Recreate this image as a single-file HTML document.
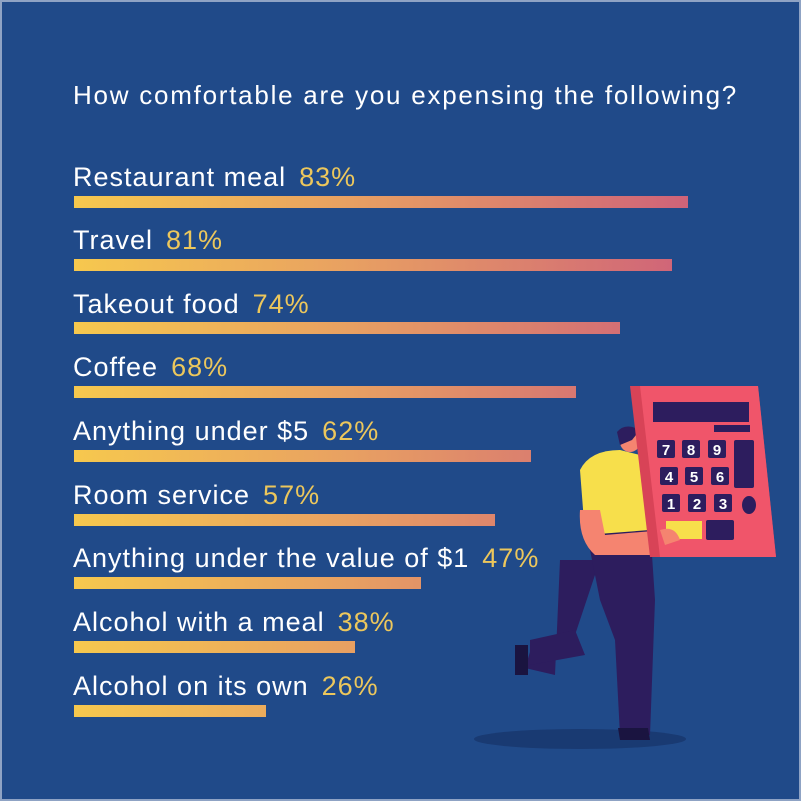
<!DOCTYPE html>
<html><head><meta charset="utf-8"><style>
body{margin:0;width:801px;height:801px;overflow:hidden;background:#fff}
#c{position:absolute;left:0;top:0;width:801px;height:801px;background:#204a89;box-sizing:border-box;border:2px solid #8fa3c4}
.t{position:absolute;left:71px;color:#fff;font-family:"Liberation Sans",sans-serif;font-size:27px;letter-spacing:1px;white-space:nowrap;line-height:1}
.t span{color:#ecc75c;margin-left:13px}
.b{position:absolute;left:72px;height:12px;background:linear-gradient(90deg,#f6c84e,#e8a062 45%,#cf6379);background-size:614px 12px;background-repeat:no-repeat}
</style></head><body><div id="c">
<div class="t" style="top:80px;font-size:26px;letter-spacing:1.75px">How comfortable are you expensing the following?</div>
<div class="t" style="top:162px">Restaurant meal<span>83%</span></div><div class="b" style="top:194px;width:614px"></div>
<div class="t" style="top:225px">Travel<span>81%</span></div><div class="b" style="top:257px;width:598px"></div>
<div class="t" style="top:289px">Takeout food<span>74%</span></div><div class="b" style="top:320px;width:546px"></div>
<div class="t" style="top:352px">Coffee<span>68%</span></div><div class="b" style="top:384px;width:502px"></div>
<div class="t" style="top:416px">Anything under $5<span>62%</span></div><div class="b" style="top:448px;width:457px"></div>
<div class="t" style="top:480px">Room service<span>57%</span></div><div class="b" style="top:512px;width:421px"></div>
<div class="t" style="top:543px">Anything under the value of $1<span>47%</span></div><div class="b" style="top:575px;width:347px"></div>
<div class="t" style="top:607px">Alcohol with a meal<span>38%</span></div><div class="b" style="top:639px;width:281px"></div>
<div class="t" style="top:671px">Alcohol on its own<span>26%</span></div><div class="b" style="top:703px;width:192px"></div>
<svg style="position:absolute;left:-2px;top:-2px" width="801" height="801">
<ellipse cx="580" cy="739" rx="106" ry="10" fill="#193a72"/>
<path d="M560 560 L600 560 L570 650 L530 652 L525 668 L555 675 Z" fill="#2d1d5e"/>
<path d="M530 640 L575 630 L585 655 L530 665 Z" fill="#2d1d5e"/>
<path d="M515 645 L528 645 L528 675 L515 675 Z" fill="#1a1440"/>
<path d="M585 525 L650 525 L655 600 L650 735 L620 735 L615 640 L600 600 Z" fill="#2d1d5e"/>
<path d="M618 728 L648 728 L650 740 L620 740 Z" fill="#1a1440"/>
<path d="M580 470 Q590 450 620 450 L640 455 L650 530 L585 535 Z" fill="#f7df4b"/>
<path d="M580 510 L600 510 L605 535 L665 530 L680 540 L660 555 L595 555 Q578 540 580 510 Z" fill="#f58470"/>
<circle cx="630" cy="442" r="10" fill="#f58470"/>
<path d="M617 432 Q625 422 640 430 L632 440 L620 445 Z" fill="#2d1d5e"/>
<path d="M630 386 L758 386 L776 557 L650 557 Z" fill="#d84357"/>
<path d="M640 386 L758 386 L776 557 L660 557 Z" fill="#f0556a"/>
<rect x="653" y="402" width="96" height="20" fill="#2d1d5e"/>
<rect x="714" y="425" width="36" height="7" fill="#2d1d5e"/>
<g fill="#2d1d5e">
<rect x="657" y="440" width="18" height="18" rx="2"/><rect x="682" y="440" width="18" height="18" rx="2"/><rect x="708" y="440" width="18" height="18" rx="2"/>
<rect x="660" y="467" width="18" height="18" rx="2"/><rect x="685" y="467" width="18" height="18" rx="2"/><rect x="711" y="467" width="18" height="18" rx="2"/>
<rect x="662" y="494" width="18" height="18" rx="2"/><rect x="688" y="494" width="18" height="18" rx="2"/><rect x="714" y="494" width="18" height="18" rx="2"/>
<rect x="734" y="440" width="20" height="48" rx="2"/><ellipse cx="749" cy="505" rx="7" ry="9"/>
<rect x="706" y="520" width="28" height="20" rx="2"/></g>
<rect x="666" y="521" width="36" height="18" fill="#f7df4b"/>
<g fill="#fff" font-family="Liberation Sans,sans-serif" font-weight="bold" font-size="15" text-anchor="middle">
<text x="666" y="455">7</text><text x="691" y="455">8</text><text x="717" y="455">9</text>
<text x="669" y="482">4</text><text x="694" y="482">5</text><text x="720" y="482">6</text>
<text x="671" y="509">1</text><text x="697" y="509">2</text><text x="723" y="509">3</text></g>
<path d="M660 530 Q675 525 680 540 L665 545 Z" fill="#f58470"/>
</svg>
</div></body></html>
